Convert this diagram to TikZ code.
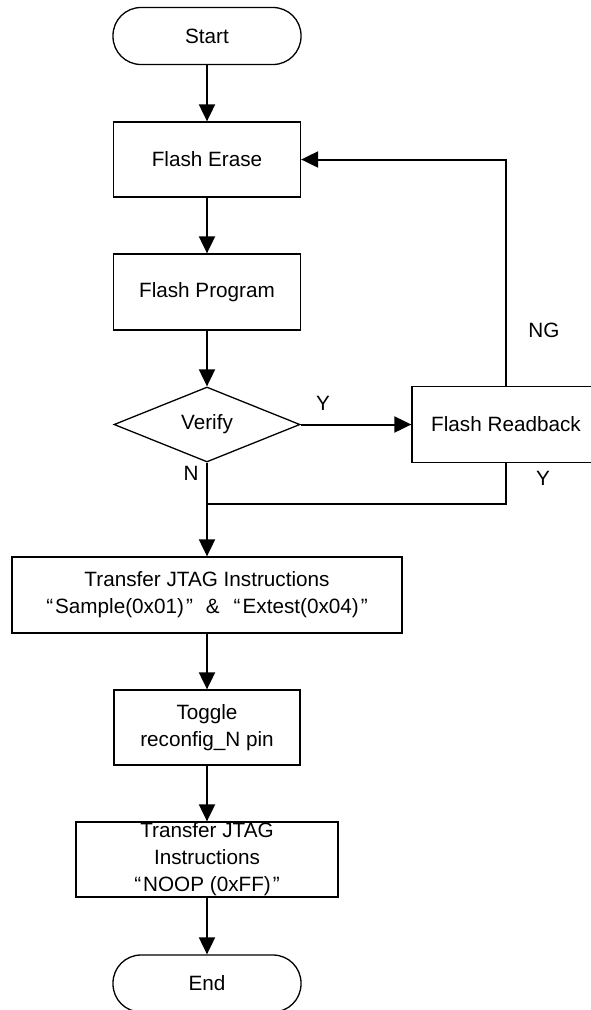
\documentclass[tikz,border=0pt]{standalone}
\usepackage{fontspec}
\setmainfont{Liberation Sans}
\usepackage{tikz}
\usetikzlibrary{shapes.geometric}
\usetikzlibrary{arrows.meta}

\tikzset{
  proc/.style={draw, rectangle, line width=1.3pt, inner sep=0pt, align=center, minimum height=75pt},
  term/.style={proc, rounded corners=28pt, minimum width=188pt, minimum height=57pt},
  decide/.style={draw, diamond, line width=1.3pt, inner sep=0pt, minimum width=186pt, minimum height=75pt},
  flow/.style={line width=2pt, -{Triangle[length=17pt,width=16pt]}},
  link/.style={line width=2pt},
  lbl/.style={inner sep=0pt}
}

\begin{document}
\begin{tikzpicture}[x=1pt,y=-1pt,font=\fontsize{20.7}{27}\selectfont]

\useasboundingbox[fill=white] (0,0) rectangle (590,1010);


\node[term] (start) at (207,36) {Start};
\node[proc, minimum width=187pt] (erase) at (207,159.5) {Flash Erase};
\node[proc, minimum width=187pt, minimum height=76pt] (program) at (207,292) {Flash Program};
\node[decide] (verify) at (207,424.5) {Verify};
\node[proc, minimum width=188pt, minimum height=76pt] (readback) at (506,424.5) {Flash Readback};

\node[proc, minimum width=390pt, minimum height=76pt] (transfer) at (207,595) {Transfer JTAG Instructions\\
“\kern2pt Sample(0x01)\kern2pt”\hspace{13pt}\&\hspace{14pt}“\kern2pt Extest(0x04)\kern2pt”};
\node[proc, minimum width=186pt] (toggle) at (207,727.5) {Toggle\\reconfig\_N pin};
\node[proc, minimum width=262pt] (noop) at (207,859.5) {Transfer JTAG\\Instructions\\“\kern2pt NOOP (0xFF)\kern2pt”};
\node[term] (end) at (207,983.5) {End};

\coordinate (merge) at (207,504);


%main line
\draw[flow] (start) -- (erase);
\draw[flow] (erase) -- (program);
\draw[flow] (program) -- (verify);
\draw[flow] (verify.east) -- (readback.west);
\draw[link] (verify.south) -- (merge);
\draw[link] (readback.south) |- (merge);
\draw[flow] (merge) -- (transfer.north);
\draw[flow] (transfer) -- (toggle);
\draw[flow] (toggle) -- (noop);
\draw[flow] (noop) -- (end);

%back to erase
\draw[flow] (readback.north) |- (erase.east);


\node[lbl] (ylab) at (323,403) {Y};
\node[lbl] (nlab) at (191,473) {N};
\node[lbl] (nglab) at (544,330) {NG};
\node[lbl] (ylab2) at (543,478) {Y};

\end{tikzpicture}
\end{document}
